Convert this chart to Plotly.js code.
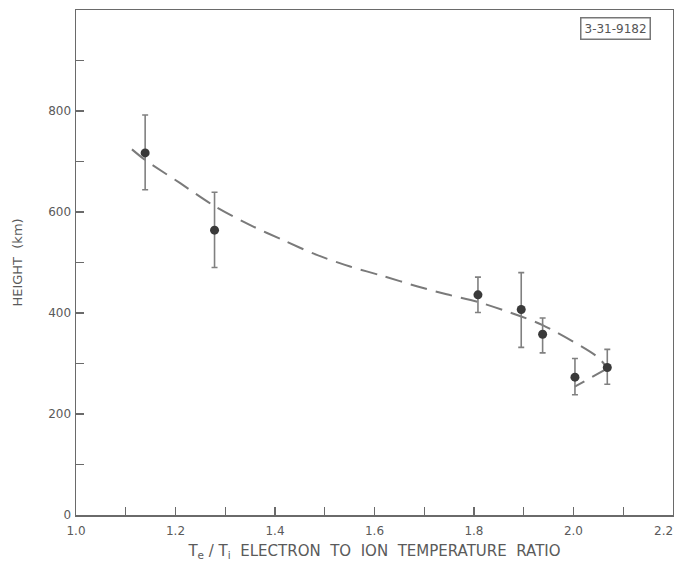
<!DOCTYPE html>
<html>
<head>
<meta charset="utf-8">
<script src="https://cdn.plot.ly/plotly-3.0.1.min.js"></script>
<style>html,body{margin:0;padding:0;background:#fff}#chart{width:674px;height:568px}</style>
</head>
<body>
<div id="chart"></div>
<script>
// Measured points (Te/Ti ratio vs height)
const ratio = [1.139, 1.2785, 1.808, 1.895, 1.938, 2.003, 2.068];
const height = [717, 564, 436, 407, 358, 273, 292];
const errUp = [75, 75, 35, 73, 32, 37, 36];
const errDown = [73, 74, 35, 75, 37, 35, 33];

// Dashed fitted curve
const curveX = [1.1125, 1.139, 1.2095, 1.278, 1.3503, 1.417, 1.484, 1.551, 1.618, 1.685, 1.745, 1.808, 1.895, 1.938, 2.047, 2.0675];
const curveY = [724, 703, 657, 612, 574, 544, 515, 492, 473, 453, 437, 422, 393, 376, 314, 292];
// Return segment of the curve
const backX = [2.0675, 2.0026];
const backY = [290, 254];

const xTickVals = [1.0, 1.2, 1.4, 1.6, 1.8, 2.0, 2.2];
const xTickText = ['1.0', '1.2', '1.4', '1.6', '1.8', '2.0', '2.2'];
const yTickVals = [0, 200, 400, 600, 800];
const yTickText = ['0', '200', '400', '600', '800'];

const lineColor = '#7a7a7a';
const axisColor = '#6a6a6a';
const textColor = '#5a5a5a';

const traces = [
  {
    x: curveX, y: curveY, mode: 'lines', type: 'scatter',
    line: {color: lineColor, width: 2, dash: '17px,9px', shape: 'spline', smoothing: 0.8},
    hoverinfo: 'skip', showlegend: false
  },
  {
    x: backX, y: backY, mode: 'lines', type: 'scatter',
    line: {color: lineColor, width: 2, dash: '17px,9px'},
    hoverinfo: 'skip', showlegend: false
  },
  {
    x: ratio, y: height, mode: 'markers', type: 'scatter',
    marker: {color: '#3a3a3a', size: 9},
    error_y: {type: 'data', symmetric: false, array: errUp, arrayminus: errDown,
              color: '#808080', thickness: 1.6, width: 3},
    showlegend: false
  }
];

// last x label sits at the right edge: draw it right-aligned so it stays inside the page
const lastIdx = xTickVals.length - 1;
const shownTickText = xTickText.map((t, i) => i === lastIdx ? '' : t);

const layout = {
  width: 674, height: 568,
  margin: {l: 76, r: 1, t: 10, b: 53},
  paper_bgcolor: '#ffffff', plot_bgcolor: '#ffffff',
  font: {family: 'DejaVu Sans, sans-serif', color: textColor, size: 12},
  xaxis: {
    range: [1.0, 2.2001], showgrid: false, zeroline: false,
    showline: true, mirror: true, linecolor: axisColor, linewidth: 1.5,
    tickmode: 'array', tickvals: xTickVals, ticktext: shownTickText,
    ticks: 'inside', ticklen: 8, tickwidth: 1.3, tickcolor: axisColor,
    ticklabelstandoff: 4,
    minor: {tickmode: 'linear', tick0: 1.0, dtick: 0.1, ticks: 'inside', ticklen: 8, tickwidth: 1.3, tickcolor: axisColor, showgrid: false},
    tickfont: {size: 12, color: textColor},
    title: {text: 'T<sub>e</sub> / T<sub>i</sub>  ELECTRON  TO  ION  TEMPERATURE  RATIO', font: {size: 15, color: textColor}, standoff: 8}
  },
  yaxis: {
    range: [0, 1000], showgrid: false, zeroline: false,
    showline: true, mirror: true, linecolor: axisColor, linewidth: 1.5,
    tickmode: 'array', tickvals: yTickVals, ticktext: yTickText,
    ticks: 'inside', ticklen: 8, tickwidth: 1.3, tickcolor: axisColor,
    ticklabelstandoff: 1,
    minor: {tickmode: 'linear', tick0: 0, dtick: 100, ticks: 'inside', ticklen: 8, tickwidth: 1.3, tickcolor: axisColor, showgrid: false},
    tickfont: {size: 12, color: textColor},
    title: {text: 'HEIGHT  (km)', font: {size: 13, color: textColor}, standoff: 22}
  },
  annotations: [{
    xref: 'paper', yref: 'paper', x: 0.903, y: 0.963,
    xanchor: 'center', yanchor: 'middle', showarrow: false,
    text: '3-31-9182', font: {size: 12, color: '#555'},
    bordercolor: '#777', borderwidth: 1.5, borderpad: 3, bgcolor: '#fff'
  }, {
    xref: 'x', yref: 'paper', x: xTickVals[lastIdx], y: 0,
    xanchor: 'right', yanchor: 'top', yshift: -7, xshift: 2, showarrow: false,
    text: xTickText[lastIdx], font: {size: 12, color: textColor}
  }]
};

Plotly.newPlot('chart', traces, layout, {displayModeBar: false, staticPlot: true});
</script>
</body>
</html>
